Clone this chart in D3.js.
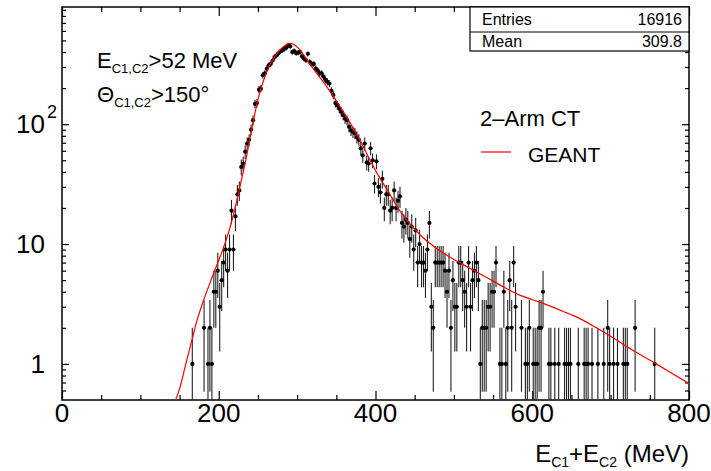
<!DOCTYPE html>
<html>
<head>
<meta charset="utf-8">
<title>E_C1+E_C2</title>
<script src="https://cdn.jsdelivr.net/npm/d3@7"></script>
<style>
body { margin: 0; background: #fff; }
svg text { font-family: "Liberation Sans", Arial, sans-serif; fill: #000; }
</style>
</head>
<body>
<div id="chart"></div>
<script>
// histogram, 2.5 MeV bins : bin centre (MeV) and entries
var binE = [166.25,181.25,186.25,188.75,191.25,193.75,196.25,198.75,201.25,203.75,
  206.25,208.75,211.25,213.75,216.25,218.75,221.25,223.75,226.25,228.75,
  231.25,233.75,236.25,238.75,241.25,243.75,246.25,248.75,251.25,253.75,
  256.25,258.75,261.25,263.75,266.25,268.75,271.25,273.75,276.25,278.75,
  281.25,283.75,286.25,288.75,291.25,293.75,296.25,298.75,301.25,303.75,
  306.25,308.75,311.25,313.75,316.25,318.75,321.25,323.75,326.25,328.75,
  331.25,333.75,336.25,338.75,341.25,343.75,346.25,348.75,351.25,353.75,
  356.25,358.75,361.25,363.75,366.25,368.75,371.25,373.75,376.25,378.75,
  381.25,383.75,386.25,388.75,391.25,393.75,396.25,398.75,401.25,403.75,
  406.25,408.75,411.25,413.75,416.25,418.75,421.25,423.75,426.25,428.75,
  431.25,433.75,436.25,438.75,441.25,443.75,446.25,448.75,451.25,453.75,
  456.25,458.75,461.25,463.75,466.25,468.75,471.25,473.75,476.25,478.75,
  481.25,483.75,486.25,488.75,491.25,493.75,496.25,498.75,501.25,503.75,
  506.25,508.75,511.25,513.75,516.25,518.75,521.25,523.75,526.25,528.75,
  531.25,533.75,536.25,538.75,541.25,543.75,546.25,548.75,551.25,553.75,
  558.75,561.25,563.75,566.25,568.75,571.25,573.75,576.25,578.75,586.25,
  591.25,593.75,596.25,601.25,603.75,606.25,608.75,611.25,613.75,621.25,
  623.75,628.75,633.75,641.25,643.75,646.25,648.75,658.75,666.25,668.75,
  671.25,676.25,683.75,691.25,696.25,698.75,703.75,708.75,716.25,718.75,
  721.25,731.25,756.25];
var binN = [1,2,1,2,1,4,4,6,3,5,
  7,9,6,9,19,9,17,26,28,44,
  47,59,69,74,90,108,148,150,194,198,
  256,265,290,310,318,340,363,375,392,405,
  415,425,435,456,447,400,408,392,396,400,
  368,353,342,387,330,318,318,291,281,265,
  265,249,234,226,218,190,175,150,144,135,
  127,119,111,108,95,89,86,84,78,74,
  63,55,69,48,47,63,50,32,49,30,
  27,35,20,26,26,19,20,28,20,23,
  25,15,14,16,15,11,14,9,13,7,
  10,7,7,6,9,15,3,2,7,7,
  7,7,7,6,4,6,2,5,3,3,
  7,7,5,4,3,7,3,5,6,7,
  5,1,2,2,2,3,3,4,4,7,
  1,1,4,1,2,5,2,7,3,2,
  1,1,2,1,1,1,2,2,4,1,
  1,1,1,1,1,1,1,1,1,1,
  1,1,1,1,2,1,1,1,1,1,
  1,2,1];

// GEANT simulation curve (MeV, entries)
var geantE = [140,145,150,158,166,173,180,193,206,214,220,227,235,242,252,265,278,288,292,296,
  304,316,338,359,380,393,405,414,435,457,478,499,520,542,563,584,614,639,660,682,
  703,724,756,801];
var geantN = [0.4,0.5,0.62,1.0,1.6,2.4,3.3,5.6,9.3,13.5,19,30,52,90,180,310,415,468,473,462,
  415,318,205,127,74,50,36,29,17.4,11.9,9.2,7.5,6.3,5.25,4.4,3.75,3.2,2.75,2.4,2.0,
  1.65,1.35,1.02,0.68];

var xTicks = [0, 200, 400, 600, 800];
var yTicks = [1, 10, 100];
var entries = "16916", meanVal = "309.8";

var margin = {top: 7, right: 22, bottom: 71, left: 62},
    width = 711 - margin.left - margin.right,
    height = 471 - margin.top - margin.bottom;

var svg = d3.select("#chart")
  .append("svg")
    .attr("width", 711)
    .attr("height", 471)
  .append("g")
    .attr("transform", "translate(" + margin.left + "," + margin.top + ")");

var x = d3.scaleLinear().domain([0, 800]).range([0, width]);
var y = d3.scaleLog().domain([0.5, 950]).range([height, 0]);

svg.append("clipPath").attr("id", "clip")
  .append("rect").attr("width", width).attr("height", height);

// minor ticks
var xMinor = d3.range(0, 801, 50).filter(function(d) { return d % 200 != 0; });
var yMinor = [];
[0.1, 1, 10, 100].forEach(function(p) {
  for (var k = 2; k <= 9; k++) {
    var v = k * p;
    if (v > 0.5 && v < 950) yMinor.push(v);
  }
});

function tickAxis(axis, size) { return axis.tickSize(size).tickFormat(""); }

svg.append("g").attr("transform", "translate(0," + height + ")")
  .call(tickAxis(d3.axisBottom(x).tickValues(xTicks), -9));
svg.append("g").attr("transform", "translate(0," + height + ")")
  .call(tickAxis(d3.axisBottom(x).tickValues(xMinor), -5));
svg.append("g")
  .call(tickAxis(d3.axisTop(x).tickValues(xTicks), -9));
svg.append("g")
  .call(tickAxis(d3.axisTop(x).tickValues(xMinor), -5));
svg.append("g")
  .call(tickAxis(d3.axisLeft(y).tickValues(yTicks), -7));
svg.append("g")
  .call(tickAxis(d3.axisLeft(y).tickValues(yMinor), -4));
svg.append("g").attr("transform", "translate(" + width + ",0)")
  .call(tickAxis(d3.axisRight(y).tickValues(yTicks), -7));
svg.append("g").attr("transform", "translate(" + width + ",0)")
  .call(tickAxis(d3.axisRight(y).tickValues(yMinor), -4));
svg.selectAll(".domain").remove();
svg.selectAll(".tick line").attr("stroke", "#000").attr("stroke-width", 1.2);

// frame
svg.append("rect")
  .attr("width", width).attr("height", height)
  .attr("fill", "none").attr("stroke", "#000").attr("stroke-width", 1.5);

// tick labels
svg.selectAll(".xlab").data(xTicks).enter().append("text")
  .attr("x", function(d) { return x(d); })
  .attr("y", height + 22)
  .attr("text-anchor", "middle")
  .style("font-size", "26px")
  .text(function(d) { return d; });

svg.selectAll(".ylab").data(yTicks).enter().append("text")
  .attr("x", -17)
  .attr("y", function(d) { return y(d) + 9; })
  .attr("text-anchor", "end")
  .style("font-size", "26px")
  .text(function(d) { return d == 100 ? "10" : d; });
svg.append("text")
  .attr("x", -15).attr("y", y(100) - 6)
  .style("font-size", "18px")
  .text("2");

// data: error bars and markers
var plot = svg.append("g").attr("clip-path", "url(#clip)");
var pts = binE.map(function(e, i) { return {e: e, n: binN[i]}; });

plot.selectAll(".err").data(pts).enter().append("line")
  .attr("x1", function(d) { return x(d.e); })
  .attr("x2", function(d) { return x(d.e); })
  .attr("y1", function(d) { return y(d.n + Math.sqrt(d.n)); })
  .attr("y2", function(d) {
    var lo = d.n - Math.sqrt(d.n);
    return lo > 0 ? y(lo) : height + 2;
  })
  .attr("stroke", "#222")
  .attr("stroke-width", 1.1);

plot.selectAll(".pt").data(pts).enter().append("circle")
  .attr("cx", function(d) { return x(d.e); })
  .attr("cy", function(d) { return y(d.n); })
  .attr("r", 2.1)
  .attr("fill", "#000");

// GEANT curve
var line = d3.line()
  .x(function(d, i) { return x(geantE[i]); })
  .y(function(d) { return y(d); })
  .curve(d3.curveCatmullRom.alpha(0.5));
plot.append("path")
  .datum(geantN)
  .attr("d", line)
  .attr("fill", "none")
  .attr("stroke", "#ff0000")
  .attr("stroke-width", 1.2);

// cut labels
var cut1 = svg.append("text").attr("x", 35).attr("y", 61).style("font-size", "22px");
cut1.append("tspan").text("E");
cut1.append("tspan").attr("dy", 5).style("font-size", "13px").text("C1,C2");
cut1.append("tspan").attr("dy", -5).text(">52 MeV");

var cut2 = svg.append("text").attr("x", 35).attr("y", 95).style("font-size", "22px");
cut2.append("tspan").text("\u0398");
cut2.append("tspan").attr("dy", 5).style("font-size", "13px").text("C1,C2");
cut2.append("tspan").attr("dy", -5).text(">150\u00b0");

// legend
svg.append("text").attr("x", 418).attr("y", 119)
  .style("font-size", "22px").text("2\u2013Arm CT");
svg.append("line")
  .attr("x1", 419).attr("x2", 449).attr("y1", 145).attr("y2", 145)
  .attr("stroke", "#ff0000").attr("stroke-width", 1.2);
svg.append("text").attr("x", 466).attr("y", 155)
  .style("font-size", "21px").text("GEANT");

// stats box
var box = svg.append("g").attr("transform", "translate(408,0)");
box.append("rect").attr("width", width - 408).attr("height", 44)
  .attr("fill", "#fff").attr("stroke", "#000").attr("stroke-width", 1.2);
box.append("line").attr("x1", 0).attr("x2", width - 408).attr("y1", 25).attr("y2", 25)
  .attr("stroke", "#000").attr("stroke-width", 1);
box.append("text").attr("x", 12).attr("y", 18).style("font-size", "16px").text("Entries");
box.append("text").attr("x", width - 408 - 7).attr("y", 18).attr("text-anchor", "end")
  .style("font-size", "16px").text(entries);
box.append("text").attr("x", 12).attr("y", 40).style("font-size", "16px").text("Mean");
box.append("text").attr("x", width - 408 - 7).attr("y", 40).attr("text-anchor", "end")
  .style("font-size", "16px").text(meanVal);

// x axis title
var xt = svg.append("text").attr("x", width).attr("y", height + 62)
  .attr("text-anchor", "end").style("font-size", "24px");
xt.append("tspan").text("E");
xt.append("tspan").attr("dy", 5).style("font-size", "14px").text("C1");
xt.append("tspan").attr("dy", -5).text("+E");
xt.append("tspan").attr("dy", 5).style("font-size", "14px").text("C2");
xt.append("tspan").attr("dy", -5).text(" (MeV)");
</script>
</body>
</html>
